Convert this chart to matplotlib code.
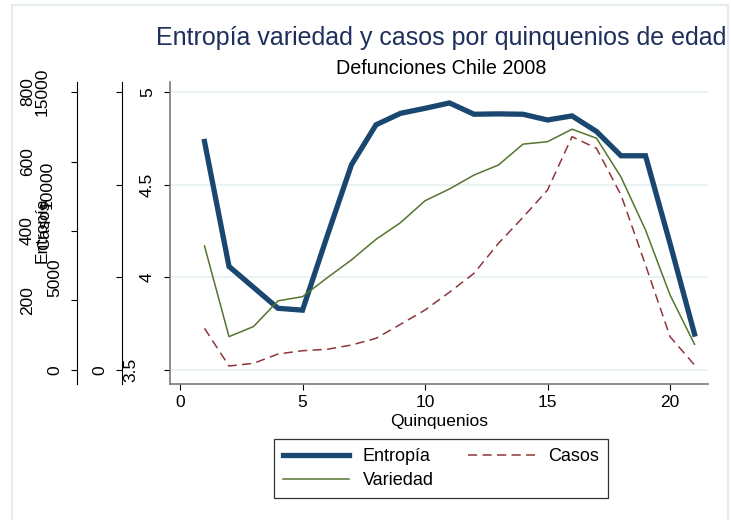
import matplotlib
matplotlib.use("Agg")
import matplotlib.pyplot as plt
from matplotlib.patches import Rectangle

plt.rcParams['font.family'] = ['Liberation Sans', 'DejaVu Sans']

quinquenios = list(range(1, 22))
entropia = [4.733, 4.059, 3.946, 3.833, 3.823, 4.22, 4.608, 4.823, 4.885, 4.912, 4.941,
            4.88, 4.882, 4.88, 4.849, 4.871, 4.787, 4.656, 4.656, 4.183, 3.694]
casos = [2250, 216, 361, 863, 1041, 1117, 1349, 1710, 2465, 3237, 4200,
         5218, 6836, 8239, 9712, 12590, 11960, 9442, 5665, 1799, 270]
variedad = [357, 96, 125, 199, 211, 265, 317, 376, 424, 487, 521,
            561, 590, 650, 657, 693, 667, 555, 403, 216, 74]

x_ticks = [0, 5, 10, 15, 20]
ent_ticks = [3.5, 4, 4.5, 5]
ent_labels = ['3.5', '4', '4.5', '5']
casos_ticks = [0, 5000, 10000, 15000]
var_ticks = [0, 200, 400, 600, 800]

W, H = 731, 520
fs = 12.5
navy = '#1a476f'
maroon = '#90353b'
green = '#55752f'
grid_c = '#eaf2f3'

fig = plt.figure(figsize=(W / 100, H / 100), dpi=100)
fig.patches.append(Rectangle((12 / W, -0.01), 716 / W, 1 - 5 / H + 0.01, transform=fig.transFigure,
                             fill=False, edgecolor='#e4ecef', lw=1.5))

# plot box in pixels: left 170, right 708, top 82, bottom 384
ax = fig.add_axes([170 / W, 1 - 384 / H, 538 / W, 302 / H])
ax2 = ax.twinx()
ax3 = ax.twinx()

ax.plot(quinquenios, entropia, color=navy, lw=3.8, label='Entropía', solid_joinstyle='miter')
ax2.plot(quinquenios, casos, color=maroon, lw=1.1, ls=(0, (6, 3.5)), label='Casos')
ax3.plot(quinquenios, variedad, color=green, lw=1.1, label='Variedad')

ax.set_xlim(-0.408, 21.55)
ax.set_ylim(3.4245, 5.054)
ax2.set_ylim(-755, 15540)
ax3.set_ylim(-40.3, 828.8)

for a in (ax, ax2, ax3):
    a.spines['top'].set_visible(False)
    a.spines['right'].set_visible(False)
    a.yaxis.set_ticks_position('left')
    a.yaxis.set_label_position('left')
for a in (ax2, ax3):
    a.spines['bottom'].set_visible(False)
    a.patch.set_visible(False)
ax2.spines['left'].set_position(('outward', 48 * 0.72))
ax3.spines['left'].set_position(('outward', 93 * 0.72))
ax2.spines['left'].set_color('black')
ax3.spines['left'].set_color('black')
ax.spines['left'].set_color('#7a7a7a')
ax.spines['bottom'].set_color('#7a7a7a')
for s in ('left', 'bottom'):
    ax.spines[s].set_linewidth(1.2)

ax.set_xticks(x_ticks)
ax.set_yticks(ent_ticks, ent_labels)
ax2.set_yticks(casos_ticks)
ax3.set_yticks(var_ticks)
ax.grid(axis='y', color=grid_c, lw=1.5)
ax.set_axisbelow(True)

for a in (ax, ax2, ax3):
    a.tick_params(axis='both', length=4.3, width=0.8, labelsize=fs, colors='black')
    plt.setp(a.get_yticklabels(), rotation=90, va='center')

ax.set_xlabel('Quinquenios', fontsize=fs, labelpad=3)
ax.set_ylabel('Entropía', fontsize=fs)
ax.yaxis.set_label_coords((50 - 170) / 538, (384 - 230) / 302)
ax2.set_ylabel('Casos', fontsize=fs)
ax2.yaxis.set_label_coords((52 - 170) / 538, (384 - 225) / 302)

# label offsets (px) as drawn in the original
pads = {ax: [26, 9, 9, 9], ax2: [9, 54, 61, 66], ax3: [9, 36, 36, 36, 36]}
for a, p in pads.items():
    for t, v in zip(a.yaxis.get_major_ticks(), p):
        t.set_pad(v * 0.72)

fig.text(441 / W, 1 - 38 / H, 'Entropía variedad y casos por quinquenios de edad',
         ha='center', va='center', fontsize=18, color='#1f2f5c')
fig.text(441 / W, 1 - 68 / H, 'Defunciones Chile 2008', ha='center', va='center', fontsize=14.2)

h1, = ax.get_lines()
h2, = ax2.get_lines()
h3, = ax3.get_lines()
leg = fig.legend([h1, h3, h2], ['Entropía', 'Variedad', 'Casos'], ncol=2, loc='center',
                 bbox_to_anchor=(441 / W, 1 - 468.5 / H), fontsize=13, frameon=True,
                 fancybox=False, edgecolor='black', handlelength=3.7, handletextpad=0.75,
                 columnspacing=1.9, labelspacing=0.4, borderpad=0.5)
leg.get_frame().set_linewidth(0.9)

fig.savefig('out.png', dpi=100)
